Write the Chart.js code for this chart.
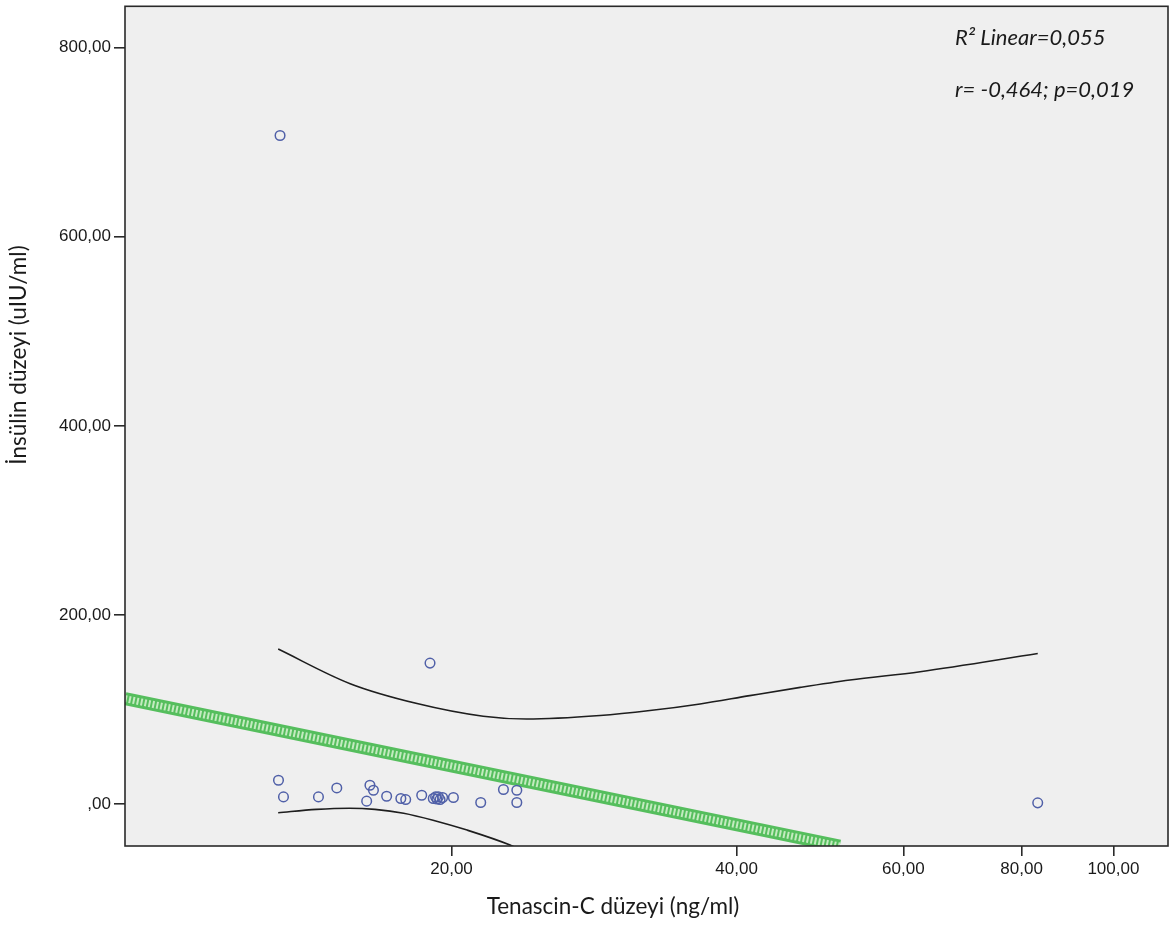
<!DOCTYPE html>
<html>
<head>
<meta charset="utf-8">
<script src="https://cdn.jsdelivr.net/npm/chart.js@4.4.1/dist/chart.umd.min.js"></script>
<style>
  html, body { margin: 0; padding: 0; background: #ffffff; }
  #wrap { width: 1175px; height: 925px; position: relative; }
</style>
</head>
<body>
<div id="wrap"><canvas id="chart-scatter" width="1175" height="925"></canvas></div>
<script>
/* SPSS style scatter: Tenascin-C vs insulin, log x axis */

// observed points
const tenascin = [13.18, 18.98, 83.19, 13.13, 13.29, 14.47, 15.13, 16.40, 16.54, 16.27,
                  17.08, 17.68, 17.89, 18.60, 19.13, 19.24, 19.37, 19.45, 19.57, 19.30,
                  20.09, 21.47, 22.69, 23.44, 23.44];
const insulin  = [707.0, 149.2, 1.4, 25.3, 7.7, 7.7, 17.2, 20.0, 14.7, 3.2,
                  8.4, 6.0, 4.9, 9.5, 6.0, 7.7, 7.7, 4.9, 7.1, 5.5,
                  7.1, 1.8, 15.5, 14.7, 1.8];

// fit line (linear on the log axis), ends where it meets the y minimum
const fitX = [9.04, 51.4];
const fitY = [111.6, -44.2];

// confidence band curves
const ciUpperX = [13.12, 15.63, 18.39, 21.6, 24.0, 28.7, 32.4, 36.6, 41.3, 46.7, 52.7, 62.5, 83.2];
const ciUpperY = [164.0, 127.4, 106.4, 93.0, 90.0, 93.7, 99.0, 106.0, 114.8, 123.5, 131.3, 140.1, 159.3];
const ciLowerX = [13.12, 14.4, 15.6, 16.6, 17.8, 19.12, 20.77, 23.06, 23.5];
const ciLowerY = [-9.0, -5.5, -4.3, -5.5, -9.5, -16.9, -27.4, -43.2, -47.0];

const xTicks = [20, 40, 60, 80, 100];
const yTicks = [0, 200, 400, 600, 800];

const xTitle = 'Tenascin-C düzeyi (ng/ml)';
const yTitle = 'İnsülin düzeyi (uIU/ml)';
const noteLines = ['R² Linear=0,055', 'r= -0,464; p=0,019'];

const toPts = (xs, ys) => xs.map((x, i) => ({ x: x, y: ys[i] }));
const fmt = (v) => {
  let s = v.toFixed(2).replace('.', ',');
  if (s.startsWith('0,')) s = s.slice(1);
  return s;
};

const frame = {
  id: 'frame',
  beforeDatasetsDraw(chart) {
    const a = chart.chartArea, c = chart.ctx;
    c.save();
    c.fillStyle = '#efefef';
    c.fillRect(a.left, a.top, a.right - a.left, a.bottom - a.top);
    c.restore();
  },
  afterDraw(chart) {
    const a = chart.chartArea, c = chart.ctx;
    c.save();
    c.strokeStyle = '#2a2a2a';
    c.lineWidth = 1.6;
    c.strokeRect(a.left, a.top, a.right - a.left, a.bottom - a.top);

    c.fillStyle = '#1a1a1a';
    c.font = '22.5px Lato, "Open Sans", sans-serif';
    c.textAlign = 'center';
    c.textBaseline = 'middle';
    c.fillText(xTitle, 613, 907);

    c.translate(19, 355);
    c.rotate(-Math.PI / 2);
    c.fillText(yTitle, 0, 0);
    c.setTransform(1, 0, 0, 1, 0, 0);

    c.textAlign = 'left';
    c.textBaseline = 'alphabetic';
    c.font = 'italic 22px Lato, "Open Sans", sans-serif';
    c.fillText(noteLines[0], 955, 45);
    c.fillText(noteLines[1], 955, 97);
    c.restore();
  }
};

new Chart(document.getElementById('chart-scatter'), {
  type: 'scatter',
  data: {
    datasets: [
      {
        label: 'Observed',
        data: toPts(tenascin, insulin),
        borderColor: '#5060a8',
        backgroundColor: 'rgba(0,0,0,0)',
        borderWidth: 1.5,
        pointRadius: 4.8,
        pointHoverRadius: 4.8
      },
      {
        label: 'Fit hatch',
        data: toPts(fitX, fitY),
        showLine: true,
        borderColor: '#c4ebc0',
        borderWidth: 7,
        borderDash: [2, 2],
        pointRadius: 0,
        clip: 0
      },
      {
        label: 'Fit line',
        data: toPts(fitX, fitY),
        showLine: true,
        borderColor: '#55be5d',
        borderWidth: 13,
        pointRadius: 0,
        clip: 0
      },
      {
        label: 'Upper',
        data: toPts(ciUpperX, ciUpperY),
        showLine: true,
        borderColor: '#1e1e1e',
        borderWidth: 1.6,
        cubicInterpolationMode: 'monotone',
        pointRadius: 0,
        clip: 0
      },
      {
        label: 'Lower',
        data: toPts(ciLowerX, ciLowerY),
        showLine: true,
        borderColor: '#1e1e1e',
        borderWidth: 1.6,
        cubicInterpolationMode: 'monotone',
        pointRadius: 0,
        clip: 0
      }
    ]
  },
  options: {
    responsive: false,
    animation: false,
    layout: { padding: { top: 3, right: 7, left: 0, bottom: 0 } },
    plugins: {
      legend: { display: false },
      tooltip: { enabled: false }
    },
    scales: {
      x: {
        type: 'logarithmic',
        min: 9.04,
        max: 114.2,
        afterBuildTicks: (s) => { s.ticks = xTicks.map(v => ({ value: v })); },
        afterFit: (s) => { s.height = 79; s.paddingLeft = 0; s.paddingRight = 0; },
        border: { display: false },
        grid: { drawOnChartArea: false, drawTicks: true, tickLength: 10, tickColor: '#2a2a2a', lineWidth: 1.6 },
        ticks: {
          color: '#1a1a1a',
          font: { family: 'Arial, "Liberation Sans", sans-serif', size: 17 },
          padding: 3,
          maxRotation: 0,
          autoSkip: false,
          callback: (v) => fmt(v)
        }
      },
      y: {
        min: -44.2,
        max: 843.6,
        afterBuildTicks: (s) => { s.ticks = yTicks.map(v => ({ value: v })); },
        afterFit: (s) => { s.width = 125; s.paddingTop = 0; s.paddingBottom = 0; },
        border: { display: false },
        grid: { drawOnChartArea: false, drawTicks: true, tickLength: 11, tickColor: '#2a2a2a', lineWidth: 1.6 },
        ticks: {
          color: '#1a1a1a',
          font: { family: 'Arial, "Liberation Sans", sans-serif', size: 17 },
          padding: 3,
          callback: (v) => fmt(v)
        }
      }
    }
  },
  plugins: [frame]
});
</script>
</body>
</html>
